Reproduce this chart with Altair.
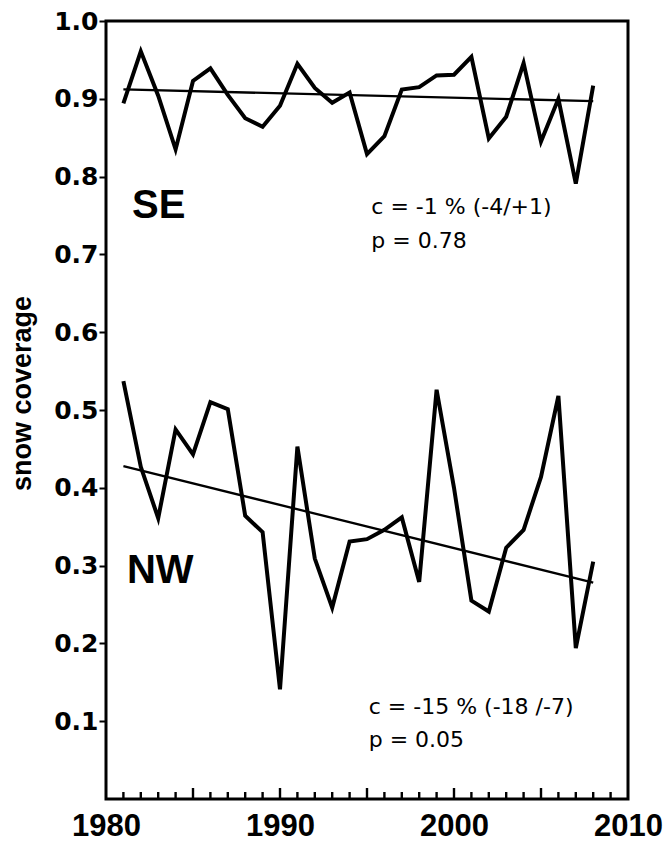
import altair as alt
import pandas as pd

# ---- data ----
years = [1981, 1982, 1983, 1984, 1985, 1986, 1987, 1988, 1989, 1990,
         1991, 1992, 1993, 1994, 1995, 1996, 1997, 1998, 1999, 2000,
         2001, 2002, 2003, 2004, 2005, 2006, 2007, 2008]
se_values = [0.894, 0.961, 0.904, 0.835, 0.923, 0.939, 0.905, 0.875, 0.864, 0.891,
             0.945, 0.914, 0.895, 0.908, 0.829, 0.852, 0.912, 0.915, 0.930, 0.931,
             0.954, 0.849, 0.877, 0.946, 0.845, 0.900, 0.791, 0.917]
nw_values = [0.537, 0.427, 0.361, 0.475, 0.443, 0.510, 0.501, 0.364, 0.343, 0.141,
             0.453, 0.309, 0.246, 0.331, 0.334, 0.346, 0.362, 0.279, 0.526, 0.400,
             0.255, 0.241, 0.323, 0.346, 0.414, 0.518, 0.194, 0.305]
trend_years = [1981, 2008]
se_trend = [0.912, 0.897]
nw_trend = [0.428, 0.278]

x_label_values = [1980, 1990, 2000, 2010]
y_label_values = [0.1, 0.2, 0.3, 0.4, 0.5, 0.6, 0.7, 0.8, 0.9, 1.0]
minor_tick_years = [1981, 1982, 1983, 1984, 1986, 1987, 1988, 1989, 1991, 1992,
                    1993, 1994, 1996, 1997, 1998, 1999, 2001, 2002, 2003, 2004,
                    2006, 2007, 2008, 2009]
major_tick_years = [1985, 1990, 1995, 2000, 2005]

region_labels = ["SE", "NW"]
se_stats = ["c = -1 % (-4/+1)", "p = 0.78"]
nw_stats = ["c = -15 % (-18 /-7)", "p = 0.05"]

W, H = 522, 778

series = pd.DataFrame({
    "year": years + years,
    "value": se_values + nw_values,
    "region": ["SE"] * len(years) + ["NW"] * len(years),
})
trends = pd.DataFrame({
    "year": trend_years + trend_years,
    "value": se_trend + nw_trend,
    "region": ["SE", "SE", "NW", "NW"],
})
minor_df = pd.DataFrame({"year": minor_tick_years})
major_df = pd.DataFrame({"year": major_tick_years})

xscale = alt.Scale(domain=[1980, 2010], nice=False, zero=False)
yscale = alt.Scale(domain=[0, 1], nice=False)

x_enc = alt.X("year:Q", scale=xscale, axis=alt.Axis(
    values=x_label_values, format="d", title=None, ticks=False, tickSize=0,
    domain=False, grid=False, labelFont="Liberation Sans", labelFontWeight="bold",
    labelFontSize=31, labelPadding=12, labelColor="black", labelFlush=False,
    labelOverlap=False))
y_enc = alt.Y("value:Q", scale=yscale, axis=alt.Axis(
    values=y_label_values, format=".1f", title="snow coverage",
    tickSize=7, tickWidth=2, tickColor="black", domain=False, grid=False,
    labelFont="DejaVu Sans", labelFontWeight="bold", labelFontSize=25,
    labelPadding=1, labelColor="black", labelFlush=False, labelOverlap=False,
    titleFont="Liberation Sans", titleFontSize=27, titleFontWeight="bold",
    titleColor="black", titleX=-76, titleY=372, titleAngle=270,
    titleAlign="center", titleBaseline="alphabetic"))

lines = alt.Chart(series).mark_line(color="black", strokeWidth=4, strokeJoin="miter").encode(
    x=x_enc, y=y_enc, detail="region:N")

trend_lines = alt.Chart(trends).mark_line(color="black", strokeWidth=2.3).encode(
    x=alt.X("year:Q", scale=xscale), y=alt.Y("value:Q", scale=yscale), detail="region:N")

minor_ticks = alt.Chart(minor_df).mark_rule(color="black", strokeWidth=2.4).encode(
    x=alt.X("year:Q", scale=xscale), y=alt.value(H), y2=alt.value(H - 7))
major_ticks = alt.Chart(major_df).mark_rule(color="black", strokeWidth=2.4).encode(
    x=alt.X("year:Q", scale=xscale), y=alt.value(H), y2=alt.value(H - 11))


def label(txt, xv, yv, size, weight, font):
    return alt.Chart(pd.DataFrame({"t": [txt]})).mark_text(
        align="left", baseline="alphabetic", fontSize=size, fontWeight=weight,
        font=font, color="black").encode(
        x=alt.X(datum=xv, scale=xscale),
        y=alt.Y(datum=yv, scale=yscale), text="t:N")


texts = [
    label(region_labels[0], 1981.5, 0.747, 40, "bold", "Liberation Sans"),
    label(region_labels[1], 1981.2, 0.278, 40, "bold", "Liberation Sans"),
    label(se_stats[0], 1995.25, 0.7515, 22, "normal", "DejaVu Sans"),
    label(se_stats[1], 1995.25, 0.708, 22, "normal", "DejaVu Sans"),
    label(nw_stats[0], 1995.1, 0.109, 22, "normal", "DejaVu Sans"),
    label(nw_stats[1], 1995.1, 0.067, 22, "normal", "DejaVu Sans"),
]

chart = alt.layer(lines, trend_lines, minor_ticks, major_ticks, *texts).properties(
    width=W, height=H,
    autosize=alt.AutoSizeParams(type="none"),
    padding={"left": 106, "top": 21, "right": 39, "bottom": 44},
    background="white",
).configure_view(stroke="black", strokeWidth=3)

chart.save("out.html", embed_options={"renderer": "svg", "actions": False})
